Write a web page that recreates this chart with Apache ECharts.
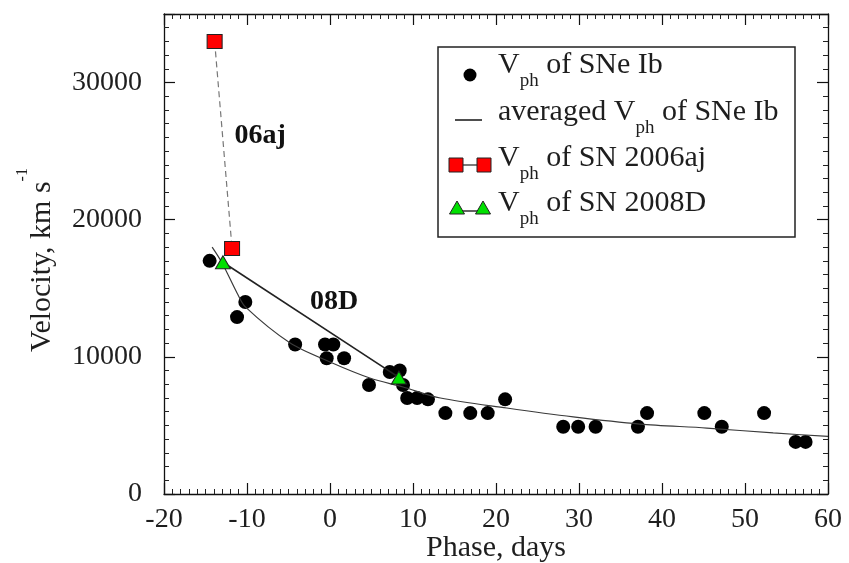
<!DOCTYPE html>
<html>
<head>
<meta charset="utf-8">
<script src="https://cdn.jsdelivr.net/npm/echarts@6/dist/echarts.min.js"></script>
<style>
  html, body { margin: 0; padding: 0; background: #fff; }
  #chart { width: 849px; height: 563px; }
</style>
</head>
<body>
<div id="chart"></div>
<script>
// Photospheric velocities of SNe Ib (phase in days, velocity in km/s)
const phaseIb = [-14.5, -10.2, -11.2, -4.2, -0.6, 0.4, -0.4, 1.7, 4.7, 7.2, 8.4, 8.8, 9.3, 10.5, 11.8,
                 13.9, 16.9, 19.0, 21.1, 28.1, 29.9, 32.0, 37.1, 38.2, 45.1, 47.2, 52.3, 56.1, 57.3];
const velIb   = [17000, 14000, 12900, 10900, 10900, 10900, 9900, 9900, 7950, 8900, 9000, 7950, 7000, 7000, 6900,
                 5900, 5900, 5900, 6900, 4900, 4900, 4900, 4900, 5900, 5900, 4900, 5900, 3800, 3800];

// Averaged velocity curve of SNe Ib
const avgPhase = [-14.2, -13.0, -11.2, -10.2, -4.8, 0.0, 4.8, 8.8, 13.3, 21.3, 29.3, 37.3, 45.4, 53.4, 60.0];
const avgVel   = [18000, 16850, 14660, 13640, 11010, 9630, 8460, 7800, 7000, 6270, 5620, 5100, 4810, 4450, 4200];

// SN 2006aj and SN 2008D
const phase06aj = [-13.9, -11.8];
const vel06aj   = [33000, 17900];
const phase08D  = [-12.9, 8.3];
const vel08D    = [16900, 8500];

// Curve tags
const tagText  = ['06aj', '08D'];
const tagPhase = [-8.4, 0.5];
const tagVel   = [26100, 14000];

// Axis ranges and tick steps
const xRange = [-20, 60], xStep = 10;
const yRange = [0, 35000], yStep = 10000;

const zip = (a, b) => a.map((v, i) => [v, b[i]]);

const SERIF = '"Liberation Serif", "DejaVu Serif", serif';
const INK = '#1e1e1e';

const chart = echarts.init(document.getElementById('chart'), null, { renderer: 'canvas' });

const frameAxis = (extra) => Object.assign({
  type: 'value',
  axisLine: { show: true, onZero: false, lineStyle: { color: '#111', width: 1.3 } },
  axisTick: { show: true, inside: true, length: 11, lineStyle: { color: '#111', width: 1.2 } },
  minorTick: { show: true, splitNumber: 10, length: 5, lineStyle: { color: '#222', width: 1 } },
  splitLine: { show: false },
  minorSplitLine: { show: false }
}, extra);

const option = {
  animation: false,
  backgroundColor: '#fff',
  grid: { left: 164, right: 21, top: 14, bottom: 69, containLabel: false, outerBoundsMode: 'none' },
  xAxis: [
    frameAxis({
      position: 'bottom', min: xRange[0], max: xRange[1], interval: xStep,
      name: 'Phase, days', nameLocation: 'middle', nameGap: 39, nameMoveOverlap: false,
      nameTextStyle: { fontFamily: SERIF, fontSize: 30, color: INK },
      axisLabel: { show: true, margin: 12, fontFamily: SERIF, fontSize: 28, color: INK,
        formatter: (v) => String(v) }
    }),
    frameAxis({
      position: 'top', min: xRange[0], max: xRange[1], interval: xStep,
      axisLabel: { show: false }
    })
  ],
  yAxis: [
    frameAxis({
      position: 'left', min: yRange[0], max: yRange[1], interval: yStep,
      name: '{m|Velocity, km s}{sup|-1}', nameLocation: 'middle', nameGap: 119, nameMoveOverlap: false,
      nameTextStyle: {
        fontFamily: SERIF, fontSize: 30, color: INK, padding: [0, 12, 0, 0],
        rich: {
          m: { fontFamily: SERIF, fontSize: 30, lineHeight: 30, color: INK, verticalAlign: 'top', padding: [12, 0, 0, 0] },
          sup: { fontFamily: SERIF, fontSize: 16, lineHeight: 16, color: INK, verticalAlign: 'top' }
        }
      },
      axisLabel: { show: true, margin: 22, fontFamily: SERIF, fontSize: 28, color: INK,
        showMaxLabel: false, formatter: (v) => (v % yStep === 0 ? String(v) : '') }
    }),
    frameAxis({
      position: 'right', min: yRange[0], max: yRange[1], interval: yStep,
      axisLabel: { show: false }
    })
  ],
  series: [
    {
      name: 'Vph of SNe Ib', type: 'scatter', xAxisIndex: 0, yAxisIndex: 0,
      data: zip(phaseIb, velIb), symbol: 'circle', symbolSize: 14,
      itemStyle: { color: '#000', opacity: 1 }, z: 3
    },
    {
      name: 'averaged Vph of SNe Ib', type: 'line', xAxisIndex: 0, yAxisIndex: 0,
      data: zip(avgPhase, avgVel), showSymbol: false, symbol: 'none', smooth: 0.3,
      lineStyle: { color: '#3a3a3a', width: 1.2 }, z: 4
    },
    {
      name: 'Vph of SN 2006aj', type: 'line', xAxisIndex: 0, yAxisIndex: 0,
      data: zip(phase06aj, vel06aj), symbol: 'rect', symbolSize: [15, 14],
      itemStyle: { color: '#ff0000', borderColor: '#222', borderWidth: 1, opacity: 1 },
      lineStyle: { color: '#777', width: 1.2, type: [6, 4] }, z: 5
    },
    {
      name: 'Vph of SN 2008D', type: 'line', xAxisIndex: 0, yAxisIndex: 0,
      data: zip(phase08D, vel08D), symbol: 'triangle', symbolSize: [15, 13],
      itemStyle: { color: '#00e000', borderColor: '#222', borderWidth: 1, opacity: 1 },
      lineStyle: { color: '#222', width: 1.6 }, z: 6
    },
    {
      name: 'tags', type: 'scatter', xAxisIndex: 0, yAxisIndex: 0,
      data: tagPhase.map((p, i) => [p, tagVel[i], tagText[i]]),
      symbolSize: 1, itemStyle: { color: 'rgba(0,0,0,0)', opacity: 1 }, silent: true,
      label: {
        show: true, position: 'inside', formatter: (p) => p.value[2], opacity: 1,
        fontFamily: SERIF, fontSize: 28, fontWeight: 'bold', color: '#111'
      }, z: 7
    }
  ],
  graphic: []
};

chart.setOption(option);

// Legend panel drawn in the upper right of the plot
const LF = 30;
const legendRich = {
  m: { fontFamily: SERIF, fontSize: LF, lineHeight: LF, fill: INK, color: INK, verticalAlign: 'top' },
  sub: { fontFamily: SERIF, fontSize: 19, lineHeight: 19, fill: INK, color: INK, verticalAlign: 'top', padding: [22, 0, 0, 0] }
};
const legendRows = [
  '{m|V}{sub|ph}{m| of SNe Ib}',
  '{m|averaged V}{sub|ph}{m| of SNe Ib}',
  '{m|V}{sub|ph}{m| of SN 2006aj}',
  '{m|V}{sub|ph}{m| of SN 2008D}'
];
const rowTop = [50, 97, 143, 188];
const rowMid = [75, 120, 165, 208];

const g = [];
g.push({ type: 'rect', shape: { x: 438, y: 47, width: 357, height: 190 },
  style: { fill: '#fff', stroke: '#222', lineWidth: 1.5 }, z: 10 });
legendRows.forEach((t, i) => {
  g.push({ type: 'text', x: 498, y: rowTop[i], z: 11,
    style: { text: t, rich: legendRich, fill: INK, font: LF + 'px ' + SERIF,
      align: 'left', verticalAlign: 'top', textAlign: 'left', textVerticalAlign: 'top' } });
});
// circle
g.push({ type: 'circle', shape: { cx: 470, cy: rowMid[0], r: 6.5 }, style: { fill: '#000' }, z: 11 });
// averaged line
g.push({ type: 'line', shape: { x1: 455, y1: rowMid[1], x2: 482, y2: rowMid[1] }, style: { stroke: '#222', lineWidth: 1.6 }, z: 11 });
// squares
g.push({ type: 'line', shape: { x1: 456, y1: rowMid[2], x2: 484, y2: rowMid[2] }, style: { stroke: '#222', lineWidth: 1.2 }, z: 11 });
[456, 484].forEach(cx => g.push({ type: 'rect', shape: { x: cx - 7, y: rowMid[2] - 7, width: 14, height: 14 },
  style: { fill: '#ff0000', stroke: '#222', lineWidth: 1 }, z: 12 }));
// triangles
g.push({ type: 'line', shape: { x1: 457, y1: rowMid[3] + 3, x2: 483, y2: rowMid[3] + 3 }, style: { stroke: '#222', lineWidth: 1.4 }, z: 11 });
[457, 483].forEach(cx => g.push({ type: 'polygon',
  shape: { points: [[cx, rowMid[3] - 7], [cx + 7.5, rowMid[3] + 6], [cx - 7.5, rowMid[3] + 6]] },
  style: { fill: '#00e000', stroke: '#222', lineWidth: 1 }, z: 12 }));

chart.setOption({ graphic: g });
</script>
</body>
</html>
